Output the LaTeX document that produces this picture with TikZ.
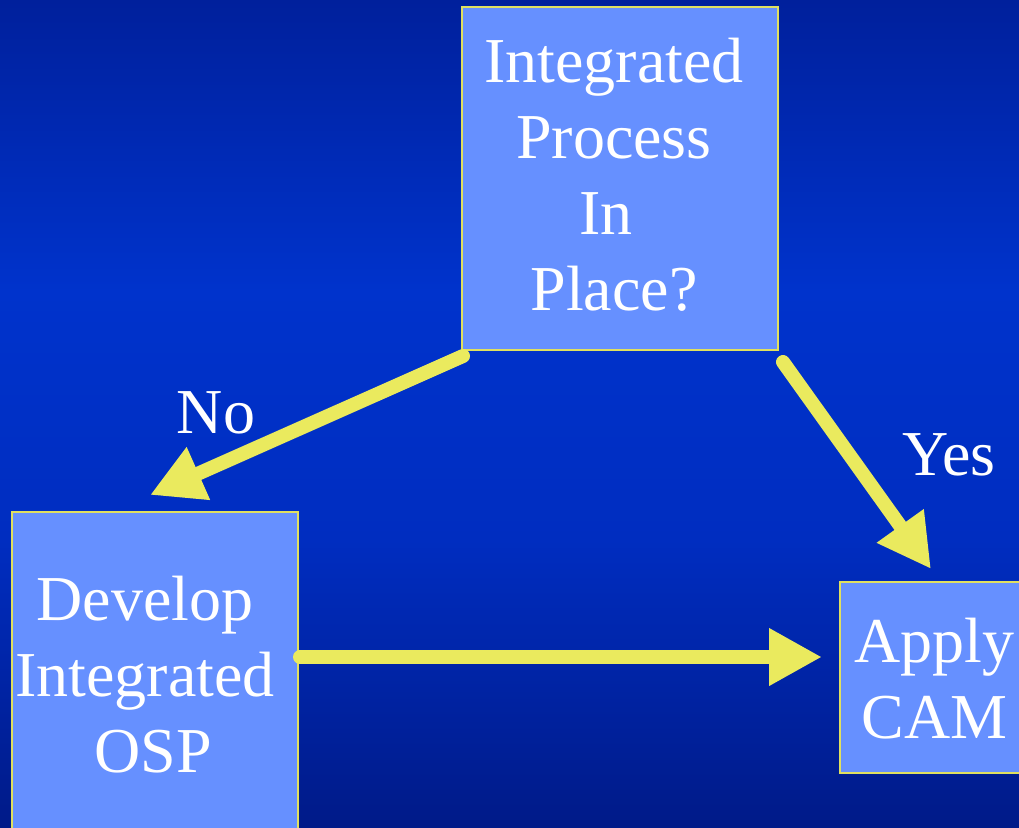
\documentclass[tikz,border=0pt]{standalone}
\usepackage{fontspec}
\setmainfont{Liberation Serif}
\usetikzlibrary{arrows.meta,calc}
\definecolor{bgtop}{HTML}{00209C}
\definecolor{bgmid}{HTML}{0033CC}
\definecolor{bgmidb}{HTML}{002DC0}
\definecolor{bgbot}{HTML}{001A88}
\definecolor{boxfill}{HTML}{6690FF}
\definecolor{boxline}{HTML}{E0E060}
\definecolor{arrowyellow}{HTML}{EAEA5E}
\begin{document}
\begin{tikzpicture}[x=1pt,y=-1pt,
  box/.style={draw=boxline, line width=1.5pt, fill=boxfill, rectangle, inner sep=0pt, outer sep=0pt},
  txt/.style={text=white, font=\fontsize{64}{76}\selectfont, align=center, inner sep=0pt, anchor=base},
  lbl/.style={text=white, font=\fontsize{64}{76}\selectfont, inner sep=0pt, anchor=base},
  conn/.style={draw=arrowyellow, line width=14pt, line cap=round, -{Triangle[length=53pt,width=54pt]}}]
\useasboundingbox (0,0) rectangle (1019,827);
\clip (0,0) rectangle (1019,827);
\shade[top color=bgtop,bottom color=bgmid] (0,0) rectangle (1019,291);
\shade[top color=bgmid,bottom color=bgmidb] (0,290) rectangle (1019,541);
\shade[top color=bgmidb,bottom color=bgbot] (0,540) rectangle (1019,827);
\node[box, minimum width=316pt, minimum height=343pt] (top) at (620,178.5) {};
\node[box, minimum width=286pt, minimum height=338pt] (left) at (155,681) {};
\node[box, minimum width=190pt, minimum height=191pt] (right) at (935,677.5) {};
\node[txt] (ttext) at (614,310) {Integrated\\Process\\In\hbox to 16pt{}\\Place?};
\node[txt] (ltext) at (145,772) {Develop\\Integrated\\\hspace*{.25em}OSP};
\node[txt] (rtext) at (934.5,738) {Apply\\CAM};
\node[lbl] (no) at (216,433) {No};
\node[lbl] (yes) at (949,475) {Yes};
\draw[conn] ($(top.south west)+(1,6)$) -- ($(left.north west)+(138,-17)$);
\draw[conn] ($(top.south east)+(5,12)$) -- ($(right.north west)+(91,-13)$);
\draw[conn] ($(left.north east)+(2,145)$) -- ($(right.north west)+(-18,75)$);
\end{tikzpicture}
\end{document}
